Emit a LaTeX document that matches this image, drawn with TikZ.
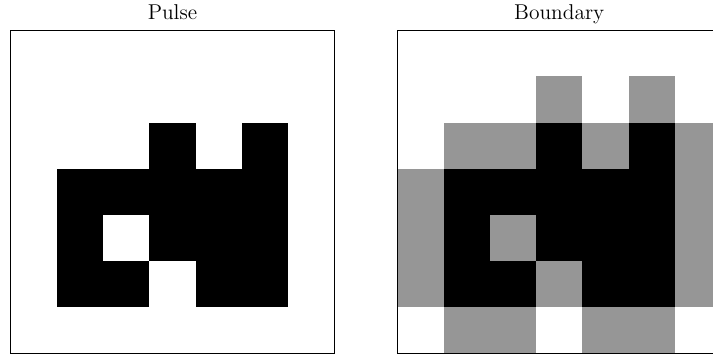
\documentclass[tikz,border=0pt]{standalone}
\usepackage{tikz}

\definecolor{bndgray}{RGB}{150,150,150}

\begin{document}
\begin{tikzpicture}[
    x=1cm, y=1cm,
    frame/.style={draw, line width=0.6pt},
    pulsecell/.style={fill=black},
    bndcell/.style={fill=bndgray},
    title/.style={anchor=base, inner sep=0pt, font=\fontsize{13.2}{15}\selectfont}
]
  \useasboundingbox (-0.232,-0.01) rectangle (15.198,7.652);
  \clip (-0.232,-0.01) rectangle (15.198,7.652);

  % pulse panel (cells given as col/row, row 0 at the top)
  \begin{scope}[shift={(0,0)}]
    \foreach \c/\r in {3/2,5/2,1/3,2/3,3/3,4/3,5/3,1/4,3/4,4/4,5/4,1/5,2/5,4/5,5/5}
      \fill[pulsecell] (\c,6-\r) rectangle ++(1,1);
    \draw[frame] (0,0) rectangle (7,7);
    \node[title] (pulsetitle) at (3.5,7.223) {Pulse};
  \end{scope}

  % boundary panel
  \begin{scope}[shift={(8.37,0)}]
    \foreach \c/\r in {3/1,5/1,1/2,2/2,4/2,6/2,0/3,6/3,0/4,2/4,6/4,0/5,3/5,6/5,1/6,2/6,4/6,5/6}
      \fill[bndcell] (\c,6-\r) rectangle ++(1,1);
    \foreach \c/\r in {3/2,5/2,1/3,2/3,3/3,4/3,5/3,1/4,3/4,4/4,5/4,1/5,2/5,4/5,5/5}
      \fill[pulsecell] (\c,6-\r) rectangle ++(1,1);
    \draw[frame] (0,0) rectangle (7,7);
    \node[title] (bndtitle) at (3.5,7.223) {Boundary};
  \end{scope}
\end{tikzpicture}
\end{document}
